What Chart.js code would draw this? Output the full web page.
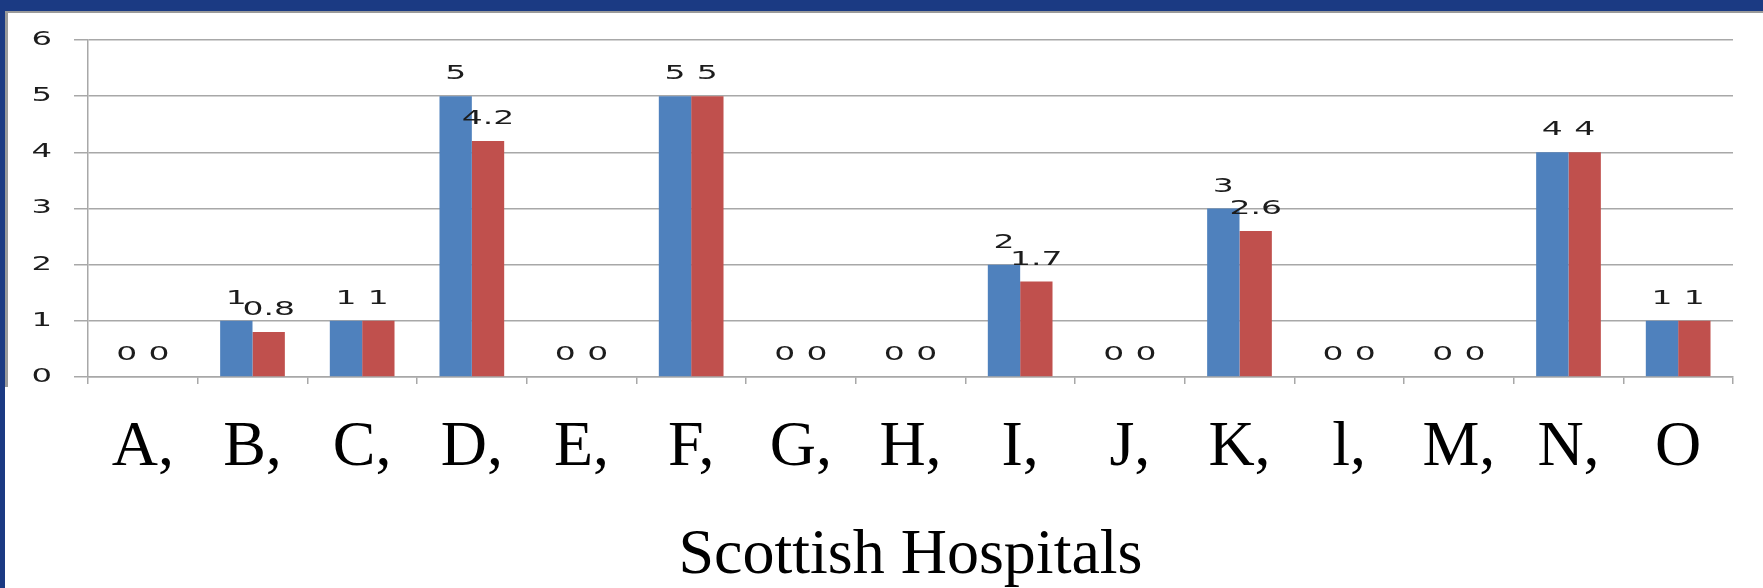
<!DOCTYPE html>
<html>
<head>
<meta charset="utf-8">
<title>Scottish Hospitals</title>
<script src="https://cdn.jsdelivr.net/npm/chart.js@4.4.1/dist/chart.umd.min.js"></script>
<style>
  html, body { margin: 0; padding: 0; background: #ffffff; overflow: hidden; }
  canvas { display: block; }
</style>
</head>
<body>
<canvas id="chart" width="1763" height="588"></canvas>
<script>
// Hospital categories along the x axis
const categories = ['A,', 'B,', 'C,', 'D,', 'E,', 'F,', 'G,', 'H,', 'I,', 'J,', 'K,', 'l,', 'M,', 'N,', 'O'];
// First (blue) series
const seriesOne = [0, 1, 1, 5, 0, 5, 0, 0, 2, 0, 3, 0, 0, 4, 1];
// Second (red) series
const seriesTwo = [0, 0.8, 1, 4.2, 0, 5, 0, 0, 1.7, 0, 2.6, 0, 0, 4, 1];
// Value axis range and step
const yMin = 0;
const yMax = 6;
const yStep = 1;

const axisTitle = 'Scottish Hospitals';
const gridColor = '#a8a8a8';
const smallTextColor = '#1c1c1c';

// Slide frame: dark blue band on top and left, grey panel edge
const framePlugin = {
  id: 'frame',
  beforeDraw(chart) {
    const ctx = chart.ctx;
    const w = chart.width, h = chart.height;
    ctx.save();
    ctx.fillStyle = '#ffffff';
    ctx.fillRect(0, 0, w, h);
    ctx.fillStyle = '#1b3a83';
    ctx.fillRect(0, 0, w, 11);
    ctx.fillRect(0, 0, 5, h);
    ctx.fillStyle = '#9a9a9a';
    ctx.fillRect(5, 11, w - 5, 2);
    ctx.fillRect(5, 11, 3, 376);
    ctx.restore();
  }
};

// Draws a label in the wide sans face used for the small chart text
function wideText(ctx, text, x, y, stretch) {
  ctx.save();
  ctx.translate(x, y);
  ctx.scale(stretch, 1);
  ctx.fillText(text, 0, 0);
  ctx.restore();
}

// Value-axis labels placed from the y scale's own ticks
const yLabelPlugin = {
  id: 'yLabels',
  afterDraw(chart) {
    const ctx = chart.ctx;
    const scale = chart.scales.y;
    ctx.save();
    ctx.font = '19px "DejaVu Sans"';
    ctx.fillStyle = smallTextColor;
    ctx.textAlign = 'right';
    ctx.textBaseline = 'middle';
    scale.ticks.forEach((t) => {
      wideText(ctx, String(t.value), scale.left + 45, scale.getPixelForValue(t.value), 1.7);
    });
    ctx.restore();
  }
};

// Value labels above each bar
const valueLabelPlugin = {
  id: 'valueLabels',
  afterDatasetsDraw(chart) {
    const ctx = chart.ctx;
    ctx.save();
    ctx.font = '20px "DejaVu Sans"';
    ctx.fillStyle = smallTextColor;
    ctx.textAlign = 'center';
    ctx.textBaseline = 'alphabetic';
    chart.data.datasets.forEach((ds, di) => {
      const meta = chart.getDatasetMeta(di);
      meta.data.forEach((bar, i) => {
        wideText(ctx, String(ds.data[i]), bar.x, bar.y - 17, 1.65);
      });
    });
    ctx.restore();
  }
};

new Chart(document.getElementById('chart'), {
  type: 'bar',
  data: {
    labels: categories,
    datasets: [
      { label: 'Series 1', data: seriesOne, backgroundColor: '#4f81bd', borderWidth: 0 },
      { label: 'Series 2', data: seriesTwo, backgroundColor: '#c0504d', borderWidth: 0 }
    ]
  },
  options: {
    responsive: false,
    devicePixelRatio: 1,
    animation: false,
    events: [],
    layout: { padding: { left: 7, right: 30, top: 40, bottom: 0 } },
    datasets: { bar: { categoryPercentage: 0.59, barPercentage: 1.0 } },
    plugins: {
      legend: { display: false },
      tooltip: { enabled: false },
      title: { display: false }
    },
    scales: {
      x: {
        grid: {
          display: true,
          drawOnChartArea: false,
          drawTicks: true,
          tickLength: 7,
          color: gridColor,
          lineWidth: 1.5
        },
        border: { display: true, color: gridColor, width: 1.5 },
        ticks: {
          font: { family: '"Liberation Serif"', size: 64 },
          color: '#000000',
          padding: 26,
          maxRotation: 0,
          autoSkip: false
        },
        title: {
          display: true,
          text: axisTitle,
          color: '#000000',
          font: { family: '"Liberation Serif"', size: 64, lineHeight: 1 },
          padding: { top: 0, bottom: 0 }
        },
        afterFit(scale) { scale.height = 211; }
      },
      y: {
        min: yMin,
        max: yMax,
        grid: {
          color: gridColor,
          lineWidth: 1.5,
          drawTicks: true,
          tickLength: 14
        },
        border: { display: true, color: gridColor, width: 1.5 },
        ticks: {
          stepSize: yStep,
          display: false
        },
        afterFit(scale) { scale.width = 81; }
      }
    }
  },
  plugins: [framePlugin, yLabelPlugin, valueLabelPlugin]
});
</script>
</body>
</html>
